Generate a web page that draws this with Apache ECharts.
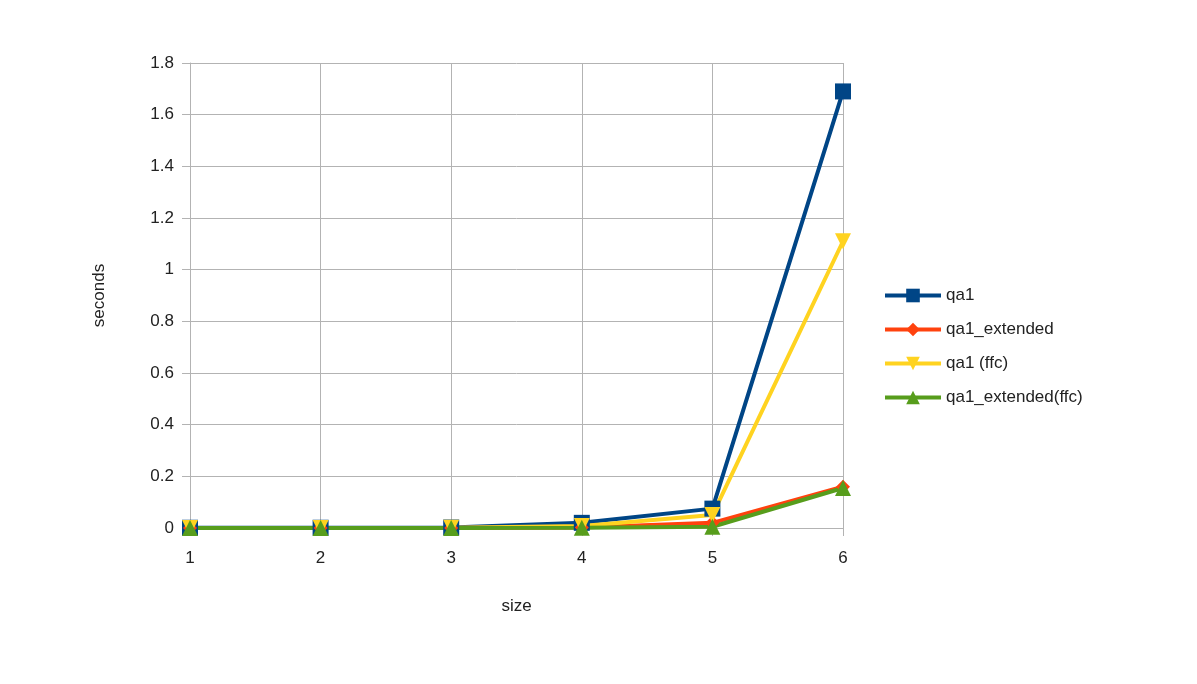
<!DOCTYPE html><html><head><meta charset="utf-8"><script src="https://cdn.jsdelivr.net/npm/echarts@6/dist/echarts.min.js"></script></head><body style="margin:0;background:#fff"><div id="c" style="width:1197px;height:684px"></div><script>
const categories=['1','2','3','4','5','6'];
const qa1=[0.001,0.001,0.002,0.02,0.075,1.69];
const qa1Ext=[0,0,0,0.002,0.02,0.16];
const qa1Ffc=[0,0,0.001,0.008,0.05,1.11];
const qa1ExtFfc=[0,0,0,0.001,0.005,0.155];
const ff='Liberation Sans';
function s(name,data,color,symbol,size,rot){return {name,type:'line',data,symbol,symbolSize:size,symbolRotate:rot||0,showSymbol:true,lineStyle:{width:4,color},itemStyle:{color},animation:false};}
const ch=echarts.init(document.getElementById('c'));
ch.setOption({
grid:{left:190,right:354,top:63,bottom:156},
xAxis:{type:'category',data:categories,boundaryGap:false,name:'size',nameLocation:'middle',nameGap:70,nameTextStyle:{fontFamily:ff,fontSize:17,color:'#222'},axisLine:{lineStyle:{color:'#b3b3b3'}},axisTick:{show:true,alignWithLabel:true,length:8,lineStyle:{color:'#b3b3b3'}},axisLabel:{fontFamily:ff,fontSize:17,color:'#222',margin:22},splitLine:{show:true,lineStyle:{color:'#b3b3b3'}}},
yAxis:{type:'value',min:0,max:1.8,interval:0.2,name:'seconds',nameLocation:'middle',nameGap:82,nameTextStyle:{fontFamily:ff,fontSize:17,color:'#222'},axisLine:{show:true,lineStyle:{color:'#b3b3b3'}},axisTick:{show:true,length:8,lineStyle:{color:'#b3b3b3'}},axisLabel:{fontFamily:ff,fontSize:17,color:'#222',margin:16,formatter:v=>String(Math.round(v*10)/10)},splitLine:{lineStyle:{color:'#b3b3b3'}}},
legend:{orient:'vertical',left:878,top:282,itemGap:17,itemWidth:56,itemHeight:17,textStyle:{fontFamily:ff,fontSize:17,color:'#222'},lineStyle:{width:4},data:['qa1','qa1_extended','qa1 (ffc)','qa1_extended(ffc)']},
series:[s('qa1',qa1,'#004586','rect',16),s('qa1_extended',qa1Ext,'#ff420e','diamond',14),s('qa1 (ffc)',qa1Ffc,'#ffd320','triangle',16,180),s('qa1_extended(ffc)',qa1ExtFfc,'#579d1c','triangle',16)]
});
</script></body></html>
